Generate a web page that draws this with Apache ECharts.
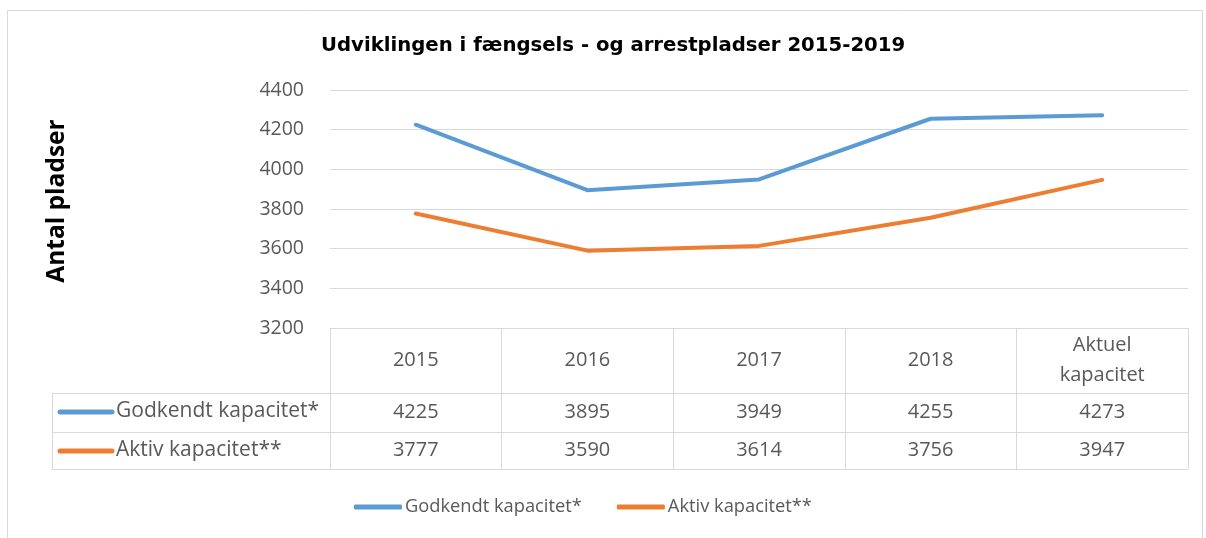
<!DOCTYPE html>
<html>
<head>
<meta charset="utf-8">
<script src="https://cdn.jsdelivr.net/npm/echarts@6/dist/echarts.min.js"></script>
<style>
  html, body { margin: 0; padding: 0; background: #fff; }
  #main { width: 1206px; height: 538px; }
</style>
</head>
<body>
<div id="main"></div>
<script>
// data
var categories = ["2015", "2016", "2017", "2018", "Aktuel\nkapacitet"];
var godkendt = [4225, 3895, 3949, 4255, 4273];
var aktiv = [3777, 3590, 3614, 3756, 3947];
var seriesNames = ["Godkendt kapacitet*", "Aktiv kapacitet**"];
var yTicks = { min: 3200, max: 4400, step: 200 };

var colors = ["#5B9BD5", "#ED7D31"];
var gridColor = "#d9d9d9";
var textColor = "#595959";
var font = "'Open Sans', 'Noto Sans', sans-serif";

var myChart = echarts.init(document.getElementById("main"));

var option = {
  animation: false,
  textStyle: { fontFamily: font },
  title: {
    text: "Udviklingen i fængsels - og arrestpladser 2015-2019",
    left: 316,
    top: 31,
    textStyle: { fontSize: 19.7, fontWeight: "bold", color: "#000", fontFamily: "'DejaVu Sans', sans-serif" }
  },
  legend: {
    data: seriesNames,
    left: 349,
    top: 493,
    icon: "roundRect",
    itemWidth: 48,
    itemHeight: 5,
    itemGap: 35,
    textStyle: { fontSize: 18.3, color: textColor, fontFamily: font, padding: [0, 0, 0, -2] }
  },
  grid: { left: 330, right: 18, top: 90, bottom: 210 },
  xAxis: {
    type: "category",
    data: categories,
    boundaryGap: true,
    axisLabel: { show: false },
    axisLine: { lineStyle: { color: gridColor, width: 1 } },
    axisTick: { show: true, length: 141, interval: 0, lineStyle: { color: gridColor } }
  },
  yAxis: {
    type: "value",
    min: yTicks.min,
    max: yTicks.max,
    interval: yTicks.step,
    name: "Antal pladser",
    nameLocation: "middle",
    nameGap: 260,
    nameTextStyle: { fontSize: 24.5, fontWeight: "bold", color: "#000", fontFamily: "'Open Sans', sans-serif", padding: [0, 0, 0, 16] },
    axisLine: { show: false },
    axisTick: { show: false },
    axisLabel: { fontSize: 19.5, color: textColor, margin: 26, formatter: function (v) { return String(v); } },
    splitLine: { lineStyle: { color: gridColor, width: 1 } }
  },
  series: [
    {
      name: seriesNames[0],
      type: "line",
      data: godkendt,
      showSymbol: false,
      color: colors[0],
      lineStyle: { width: 4, cap: "round", join: "round" }
    },
    {
      name: seriesNames[1],
      type: "line",
      data: aktiv,
      showSymbol: false,
      color: colors[1],
      lineStyle: { width: 4, cap: "round", join: "round" }
    }
  ]
};
myChart.setOption(option);

// data table under the plot
function drawTable() {
  var y0 = myChart.convertToPixel({ yAxisIndex: 0 }, yTicks.min);
  var xLeft = 52;
  var xEnd = myChart.getWidth() - 18;
  var rowTop = [y0 + 65, y0 + 104, y0 + 141];
  var els = [];

  // outer chart border
  els.push({ type: "rect", shape: { x: 7.5, y: 10.5, width: 1195, height: 540 },
    style: { fill: null, stroke: gridColor, lineWidth: 1 }, silent: true });

  rowTop.forEach(function (y) {
    els.push({ type: "line", shape: { x1: xLeft, y1: y + 0.5, x2: xEnd, y2: y + 0.5 },
      style: { stroke: gridColor, lineWidth: 1 } });
  });
  els.push({ type: "line", shape: { x1: xLeft + 0.5, y1: rowTop[0], x2: xLeft + 0.5, y2: rowTop[2] },
    style: { stroke: gridColor, lineWidth: 1 } });

  var fNum = "20px " + font;
  var fLab = "21px " + font;
  categories.forEach(function (c, i) {
    var x = myChart.convertToPixel({ xAxisIndex: 0 }, i);
    els.push({ type: "text", x: x, y: y0 + 32,
      style: { text: c, fill: textColor, font: fNum, align: "center", verticalAlign: "middle", lineHeight: 30 } });
    els.push({ type: "text", x: x, y: y0 + 84,
      style: { text: String(godkendt[i]), fill: textColor, font: fNum, align: "center", verticalAlign: "middle" } });
    els.push({ type: "text", x: x, y: y0 + 122,
      style: { text: String(aktiv[i]), fill: textColor, font: fNum, align: "center", verticalAlign: "middle" } });
  });

  [rowTop[0] + 19, rowTop[1] + 19].forEach(function (y, k) {
    els.push({ type: "line", shape: { x1: 60, y1: y, x2: 112, y2: y },
      style: { stroke: colors[k], lineWidth: 5, lineCap: "round" } });
    els.push({ type: "text", x: 116, y: y - 1,
      style: { text: seriesNames[k], fill: textColor, font: fLab, align: "left", verticalAlign: "middle" } });
  });

  myChart.setOption({ graphic: { elements: els } });
}
drawTable();
</script>
</body>
</html>
